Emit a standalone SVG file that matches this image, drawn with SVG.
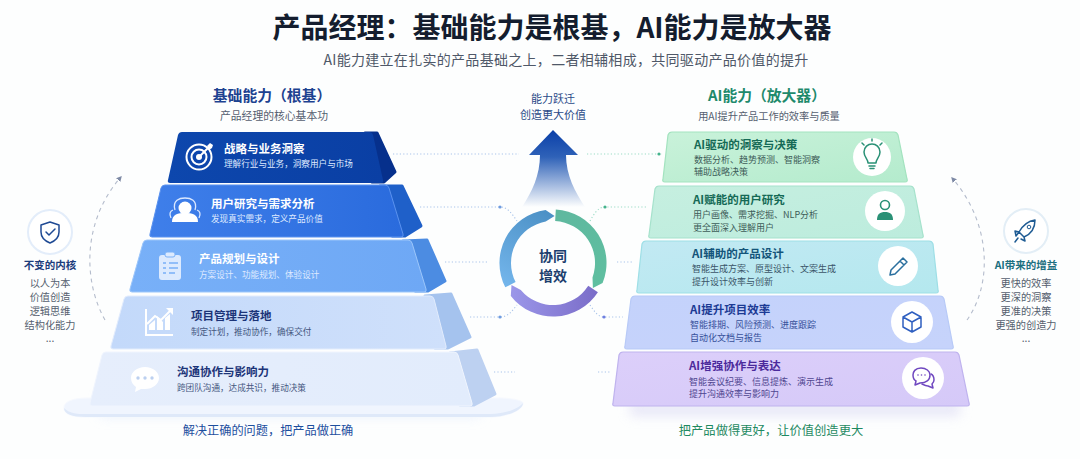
<svg xmlns="http://www.w3.org/2000/svg" width="1080" height="459" viewBox="0 0 1080 459">
<style>
text{font-family:"Noto Sans CJK SC","Noto Sans",sans-serif}
.m{text-anchor:middle}
.b{font-weight:700}
.lt{font-size:11.5px;font-weight:700;fill:#fff}
.ls{font-size:8.6px;fill:#dfeaff}
.rt{font-size:11.5px;font-weight:700}
.rs{font-size:9px}
.item{font-size:10.2px;fill:#555e6e;text-anchor:middle}
.dot{fill:none;stroke:#a9c4ea;stroke-width:1.1;stroke-dasharray:1.2 2.2}
.dotg{fill:none;stroke:#9bdcc6;stroke-width:1.1;stroke-dasharray:1.2 2.2}
.dash{fill:none;stroke:#b4bccc;stroke-width:1.1;stroke-dasharray:4 4}
.wi{fill:#fff}
.wl{fill:none;stroke:#fff;stroke-width:2}
.ic{fill:none;stroke-width:1.5;stroke-linecap:round;stroke-linejoin:round}
.sd{stroke-linejoin:round;stroke-width:3}
.cc{fill:#fff}
</style>
<defs>
<linearGradient id="f1" x1="0" x2="1" y1="0" y2="0"><stop offset="0" stop-color="#0d47ad"/><stop offset="1" stop-color="#0a3fa4"/></linearGradient>
<linearGradient id="f2" x1="0" x2="1" y1="0" y2="0"><stop offset="0" stop-color="#3f7fea"/><stop offset="1" stop-color="#2a6bdd"/></linearGradient>
<linearGradient id="f3" x1="0" x2="1" y1="0" y2="0"><stop offset="0" stop-color="#78b0f8"/><stop offset="1" stop-color="#6ea8f5"/></linearGradient>
<linearGradient id="f4" x1="0" x2="1" y1="0" y2="0"><stop offset="0" stop-color="#c3d9fa"/><stop offset="1" stop-color="#cfe0fb"/></linearGradient>
<linearGradient id="f5" x1="0" x2="1" y1="0" y2="0"><stop offset="0" stop-color="#e6eefc"/><stop offset="1" stop-color="#e2ecfc"/></linearGradient>
<linearGradient id="r1" x1="0" x2="1" y1="0" y2="1"><stop offset="0" stop-color="#c9f2da"/><stop offset="1" stop-color="#b4ebcd"/></linearGradient>
<linearGradient id="r2" x1="0" x2="1" y1="0" y2="1"><stop offset="0" stop-color="#c6efe0"/><stop offset="1" stop-color="#bcecdd"/></linearGradient>
<linearGradient id="r3" x1="0" x2="1" y1="0" y2="1"><stop offset="0" stop-color="#c2e9f3"/><stop offset="1" stop-color="#b4e8ee"/></linearGradient>
<linearGradient id="r4" x1="0" x2="1" y1="0" y2="1"><stop offset="0" stop-color="#c4d2fb"/><stop offset="1" stop-color="#c6d3fb"/></linearGradient>
<linearGradient id="r5" x1="0" x2="1" y1="0" y2="1"><stop offset="0" stop-color="#dccffa"/><stop offset="1" stop-color="#d5c9f8"/></linearGradient>
<linearGradient id="up" x1="0" x2="0" y1="0" y2="1"><stop offset="0" stop-color="#0a3fa8"/><stop offset=".35" stop-color="#2f62b8"/><stop offset="1" stop-color="#2f62b8" stop-opacity="0"/></linearGradient>
<linearGradient id="sb" x1="505" x2="552" y1="288" y2="210" gradientUnits="userSpaceOnUse"><stop offset="0" stop-color="#74b6ec"/><stop offset="1" stop-color="#4a8fc4"/></linearGradient>
<linearGradient id="sg" x1="505" x2="552" y1="288" y2="210" gradientUnits="userSpaceOnUse"><stop offset="0" stop-color="#5fb89f"/><stop offset="1" stop-color="#5fbfa0"/></linearGradient>
<linearGradient id="sp" x1="505" x2="552" y1="288" y2="210" gradientUnits="userSpaceOnUse"><stop offset="0" stop-color="#7a6cc8"/><stop offset="1" stop-color="#9c98ea"/></linearGradient>
<filter id="blur" x="-20%" y="-100%" width="140%" height="300%"><feGaussianBlur stdDeviation="6"/></filter>
<marker id="ah" markerWidth="5" markerHeight="5" refX="2.500" refY="2.500" orient="auto"><path d="M0,0L5,2.500L0,5Z" fill="#7e8aa5"/></marker>
<path id="chatI" d="M0-10C-8-10-14-5-14 1C-14 5-12 8-9 10L-10 15L-4 12C-3 12-1 12 0 12C8 12 14 7 14 1C14-5 8-10 0-10Z"/>
</defs>
<rect width="1080" height="459" fill="#fdfefe"/>
<rect x="100" y="395" width="380" height="22" fill="#dfe9fb" opacity=".6" filter="url(#blur)"/>
<rect x="630" y="402" width="330" height="14" fill="#d9d8f3" opacity=".6" filter="url(#blur)"/>

<g id="title">
<text x="552" y="38" class="m b" font-size="28" fill="#141d2e">产品经理：基础能力是根基，AI能力是放大器</text>
<text x="566" y="65" class="m" font-size="14" letter-spacing=".3" fill="#4f5868">AI能力建立在扎实的产品基础之上，二者相辅相成，共同驱动产品价值的提升</text>
</g>

<g id="connectors">
<path class="dot" d="M393 154H519M420 207H500C508 207 512 214 517 221M445 262H487M470 317H500C508 317 512 311 517 305M494 372H515"/>
<circle cx="500" cy="207" r="1.600" fill="#6f9ce0"/><circle cx="500" cy="317" r="1.600" fill="#6f9ce0"/>
<path class="dotg" d="M587 154H662M590 221C594 214 598 207 605 207H646"/>
<path class="dot" d="M617 262H633"/>
<path class="dot" d="M590 305C594 311 598 317 604 317H623M598 372H611"/>
<circle cx="659" cy="154" r="1.600" fill="#45b38c"/><circle cx="605" cy="207" r="1.600" fill="#45b38c"/><circle cx="604" cy="317" r="1.600" fill="#6f7fe0"/>
<path class="dash" d="M105 320C85 285 80 225 120 178" marker-end="url(#ah)"/>
<path class="dash" d="M967 320C992 285 992 225 953 179" marker-end="url(#ah)"/>
</g>

<g id="base"><path d="M64 408C64 401 74 398 90 398H497C513 398 523 401 523 403C523 411 505 417 490 417H86C72 417 64 414 64 408Z" fill="#f0f5fe" stroke="#f6f9fe"/><path d="M64 408C70 414 78 414 86 414H490C505 414 518 409 523 403C523 411 505 417 490 417H86C72 417 64 414 64 408Z" fill="#dfe9f9"/></g>

<g id="left5">
<path class="sd" d="M450 353L477 350L495 394L474 405H460Z" fill="#bdd1f1" stroke="#bdd1f1"/>
<path d="M106 352H454Q457 352 458 355L472 403Q473 406 470 406H92Q89 406 90 403L102 355Q103 352 106 352Z" fill="url(#f5)" stroke="#f0f5fe"/>
<use href="#chatI" x="145" y="377" fill="#fff"/>
<circle cx="138" cy="378" r="1.700" fill="#bcd0f0"/><circle cx="145" cy="378" r="1.700" fill="#bcd0f0"/><circle cx="152" cy="378" r="1.700" fill="#bcd0f0"/>
<text x="177" y="376" class="lt" style="fill:#1c3478">沟通协作与影响力</text>
<text x="177" y="391" class="ls" style="fill:#44577f">跨团队沟通，达成共识，推动决策</text>
</g>
<g id="left4">
<path class="sd" d="M425 296L451 294L470 337L448 348H435Z" fill="#a5c3ee" stroke="#a5c3ee"/>
<path d="M128 296H430Q433 296 434 299L446 346Q447 349 444 349H113Q110 349 111 346L124 299Q125 296 128 296Z" fill="url(#f4)" stroke="#e2ecfd"/>
<path d="M146 309V335H173" class="wl"/>
<path d="M149 330V325L155 320V330ZM157 330V316L163 322V330ZM165 330V318L170 314V330Z" class="wi"/>
<path d="M147 324L155 316L161 320L171 310" class="wl"/><path d="M166 308H173V315Z" class="wi"/>
<text x="191" y="320" class="lt" style="fill:#1c3478">项目管理与落地</text>
<text x="191" y="335" class="ls" style="fill:#44577f">制定计划，推动协作，确保交付</text>
</g>
<g id="left3">
<path class="sd" d="M403 241L427 240L445 281L428 291H415Z" fill="#4c8ce2" stroke="#4c8ce2"/>
<path d="M147 240H408Q411 240 412 243L426 289Q427 292 424 292H132Q129 292 130 289L143 243Q144 240 147 240Z" fill="url(#f3)" stroke="#9cc6fa"/>
<rect x="159" y="255" width="22" height="25" rx="3" fill="#dceafe"/><rect x="165" y="252" width="10" height="5" rx="2" fill="#dceafe" stroke="#78b0f8"/>
<path d="M163 263h3M169 263h9M163 268h3M169 268h9M163 273h3M169 273h6" stroke="#78b0f8" stroke-width="1.500"/>
<text x="199" y="263" class="lt">产品规划与设计</text>
<text x="199" y="278" class="ls">方案设计、功能规划、体验设计</text>
</g>
<g id="left2">
<path class="sd" d="M380 186L402 186L421 226L405 236H392Z" fill="#1f60c9" stroke="#1f60c9"/>
<path d="M165 185H385Q388 185 389 188L403 234Q404 237 401 237H152Q149 237 150 234L161 188Q162 185 165 185Z" fill="url(#f2)" stroke="#5a92ef"/>
<circle cx="185" cy="208" r="6.500" fill="#fff"/><path d="M172 222C172 214 178 213 185 213C192 213 198 214 198 222Z" fill="#fff"/>
<path d="M175 210C172 200 180 198 185 198C190 198 198 200 195 210M171 218C169 214 170 211 173 210M199 218C201 214 200 211 197 210" fill="none" stroke="#dbe8ff" stroke-width="1.300"/>
<text x="211" y="208" class="lt">用户研究与需求分析</text>
<text x="211" y="222" class="ls">发现真实需求，定义产品价值</text>
</g>
<g id="left1">
<path class="sd" d="M365 133L377 133L395 172L384 182H372Z" fill="#06308c" stroke="#06308c"/>
<path d="M182 132H369Q372 132 373 135L383 180Q384 183 381 183H170Q167 183 168 180L178 135Q179 132 182 132Z" fill="url(#f1)"/>
<circle cx="199" cy="157" r="12.500" class="wl"/><circle cx="199" cy="157" r="7.500" class="wl"/><circle cx="199" cy="157" r="3" fill="#fff"/>
<path d="M199 157L209 147" class="wl"/><path d="M207 146L210 143L213 145L212 148L209 150Z" fill="#fff"/>
<text x="224" y="153" class="lt">战略与业务洞察</text>
<text x="224" y="167" class="ls">理解行业与业务，洞察用户与市场</text>
</g>

<g id="left-heading">
<text x="272" y="101" class="m b" font-size="14.800" fill="#1d4290">基础能力（根基）</text>
<text x="274" y="120" class="m" font-size="10.800" fill="#565f70">产品经理的核心基本功</text>
</g>
<text x="268" y="435" class="m" font-size="12.200" fill="#1d4f9e">解决正确的问题，把产品做正确</text>

<g id="keep">
<circle cx="50" cy="232" r="22" fill="#fff" stroke="#e3edfa" stroke-width="2"/>
<path class="ic" stroke="#1f4a94" d="M50 222L59 225V232C59 238 55 241 50 243C45 241 41 238 41 232V225Z"/><path class="ic" stroke="#1f4a94" d="M46 232L49 235L55 229"/>
<text x="50" y="269" class="m b" font-size="10.500" fill="#1c3c7c">不变的内核</text>
<text x="50" y="287" class="item">以人为本</text><text x="50" y="301" class="item">价值创造</text><text x="50" y="315" class="item">逻辑思维</text><text x="50" y="329" class="item">结构化能力</text><text x="50" y="342" class="item">...</text>
</g>

<g id="center">
<path d="M553 130L578 155H566C566 175 575 192 585 207H522C532 192 540 175 540 155H529Z" fill="url(#up)"/>
<text x="553" y="103" class="m" font-size="11" fill="#2a4a88">能力跃迁</text>
<text x="553" y="119" class="m" font-size="11" fill="#2a4a88">创造更大价值</text>
<g id="ring">
<path fill="url(#sb)" d="M505.300 287.300A53.500 53.500 0 0 1 545.600 210L554.600 216L545.700 221.600A42 42 0 0 0 515.600 282.100Z"/>
<path transform="rotate(120 553 263)" fill="url(#sg)" d="M505.300 287.300A53.500 53.500 0 0 1 545.600 210L554.600 216L545.700 221.600A42 42 0 0 0 515.600 282.100Z"/>
<path transform="rotate(240 553 263)" fill="url(#sp)" d="M505.300 287.300A53.500 53.500 0 0 1 545.600 210L554.600 216L545.700 221.600A42 42 0 0 0 515.600 282.100Z"/>
</g>
<text x="553" y="261" class="m b" font-size="14" fill="#1c3e6e">协同</text>
<text x="553" y="281" class="m b" font-size="14" fill="#1c3e6e">增效</text>
</g>

<g id="right-heading">
<text x="767" y="101" class="m b" font-size="14.800" fill="#1f8a6c">AI能力（放大器）</text>
<text x="769" y="120" class="m" font-size="10.200" fill="#565f70">用AI提升产品工作的效率与质量</text>
</g>

<g id="right1">
<path d="M672 132H894Q897 132 898 135L907 179Q908 182 905 182H665Q662 182 663 179L668 135Q669 132 672 132Z" fill="url(#r1)" stroke="#a3e3bf" stroke-width="1.200"/>
<circle class="cc" cx="872" cy="157" r="19"/>
<g class="ic" stroke="#2a9176"><path d="M868 163C868 159 864 157 864 152C864 147 868 144 872 144C876 144 880 147 880 152C880 157 876 159 876 163Z"/><path d="M869 166H875M870 168.500H874M862 143L864 145M882 143L880 145M872 139V141"/></g>
<text x="694" y="149" class="rt" fill="#156a56">AI驱动的洞察与决策</text>
<text x="694" y="163" class="rs" fill="#3d5c58">数据分析、趋势预测、智能洞察</text>
<text x="694" y="175" class="rs" fill="#3d5c58">辅助战略决策</text>
</g>
<g id="right2">
<path d="M659 186H910Q913 186 914 189L923 235Q924 238 921 238H651Q648 238 649 235L655 189Q656 186 659 186Z" fill="url(#r2)" stroke="#a6e2cc" stroke-width="1.200"/>
<circle class="cc" cx="885" cy="211" r="20"/>
<circle cx="885" cy="205" r="4.500" fill="none" stroke="#2a9176" stroke-width="1.600"/><path d="M877 220C877 214 880 212 885 212C890 212 893 214 893 220Z" fill="#2a9176"/>
<text x="693" y="204" class="rt" fill="#156a56">AI赋能的用户研究</text>
<text x="693" y="218" class="rs" fill="#3d5c58">用户画像、需求挖掘、NLP分析</text>
<text x="693" y="231" class="rs" fill="#3d5c58">更全面深入理解用户</text>
</g>
<g id="right3">
<path d="M646 241H929Q932 241 933 244L938 290Q939 293 936 293H639Q636 293 637 290L642 244Q643 241 646 241Z" fill="url(#r3)" stroke="#9edfe6" stroke-width="1.200"/>
<circle class="cc" cx="898" cy="266" r="20"/>
<path class="ic" stroke="#2a6f9e" d="M890 275L891 270L903 258L907 262L895 274ZM900 261L904 265"/>
<text x="692" y="258" class="rt" fill="#14557a">AI辅助的产品设计</text>
<text x="692" y="272" class="rs" fill="#3a5568">智能生成方案、原型设计、文案生成</text>
<text x="692" y="285" class="rs" fill="#3a5568">提升设计效率与创新</text>
</g>
<g id="right4">
<path d="M635 296H940Q943 296 944 299L953 346Q954 349 951 349H627Q624 349 625 346L631 299Q632 296 635 296Z" fill="url(#r4)" stroke="#b8caf7" stroke-width="1.200"/>
<circle class="cc" cx="912" cy="322" r="21"/>
<path class="ic" stroke="#2f5fc0" d="M912 312L921 317V327L912 332L903 327V317ZM903 317L912 322L921 317M912 322V332"/>
<text x="690" y="314" class="rt" fill="#1c3a94">AI提升项目效率</text>
<text x="690" y="328" class="rs" fill="#37509a">智能排期、风险预测、进度跟踪</text>
<text x="690" y="341" class="rs" fill="#37509a">自动化文档与报告</text>
</g>
<g id="right5">
<path d="M623 352H955Q958 352 959 355L969 403Q970 406 967 406H615Q612 406 613 403L619 355Q620 352 623 352Z" fill="url(#r5)" stroke="#bfb3ee" stroke-width="1.200"/>
<circle class="cc" cx="923" cy="378" r="21"/>
<g class="ic" stroke="#7048c0" stroke-width="1.300"><path d="M921 368C915 368 913 372 913 375C913 378 914 380 916 381L915 385L920 383C926 383 930 380 930 375C930 371 926 368 921 368Z"/><path d="M931 374C933 375 934 377 934 380C934 382 933 383 932 384L933 388L928 386C926 386 924 385 922 384"/></g>
<circle cx="918" cy="375" r=".8" fill="#7048c0"/><circle cx="921.500" cy="375" r=".8" fill="#7048c0"/><circle cx="925" cy="375" r=".8" fill="#7048c0"/>
<text x="689" y="370" class="rt" fill="#4b2a9c">AI增强协作与表达</text>
<text x="689" y="385" class="rs" fill="#4f4690">智能会议纪要、信息提炼、演示生成</text>
<text x="689" y="397" class="rs" fill="#4f4690">提升沟通效率与影响力</text>
</g>
<text x="771" y="435" class="m" font-size="12.300" fill="#1f8a62">把产品做得更好，让价值创造更大</text>

<g id="gain">
<circle cx="1026" cy="231" r="22" fill="#fff" stroke="#e3eef6" stroke-width="2"/>
<path class="ic" stroke="#1f5c94" d="M1035 220C1028 221 1023 225 1019 232L1024 237C1031 234 1035 228 1035 220ZM1019 232L1015 231L1016 236ZM1024 237L1025 241L1021 239M1018 238L1015 242"/>
<circle cx="1029" cy="227" r="1.800" fill="none" stroke="#1f5c94"/>
<text x="1026" y="269" class="m b" font-size="10.500" fill="#1c6f80">AI带来的增益</text>
<text x="1026" y="287" class="item">更快的效率</text><text x="1026" y="301" class="item">更深的洞察</text><text x="1026" y="315" class="item">更准的决策</text><text x="1026" y="329" class="item">更强的创造力</text><text x="1026" y="342" class="item">...</text>
</g>
</svg>
